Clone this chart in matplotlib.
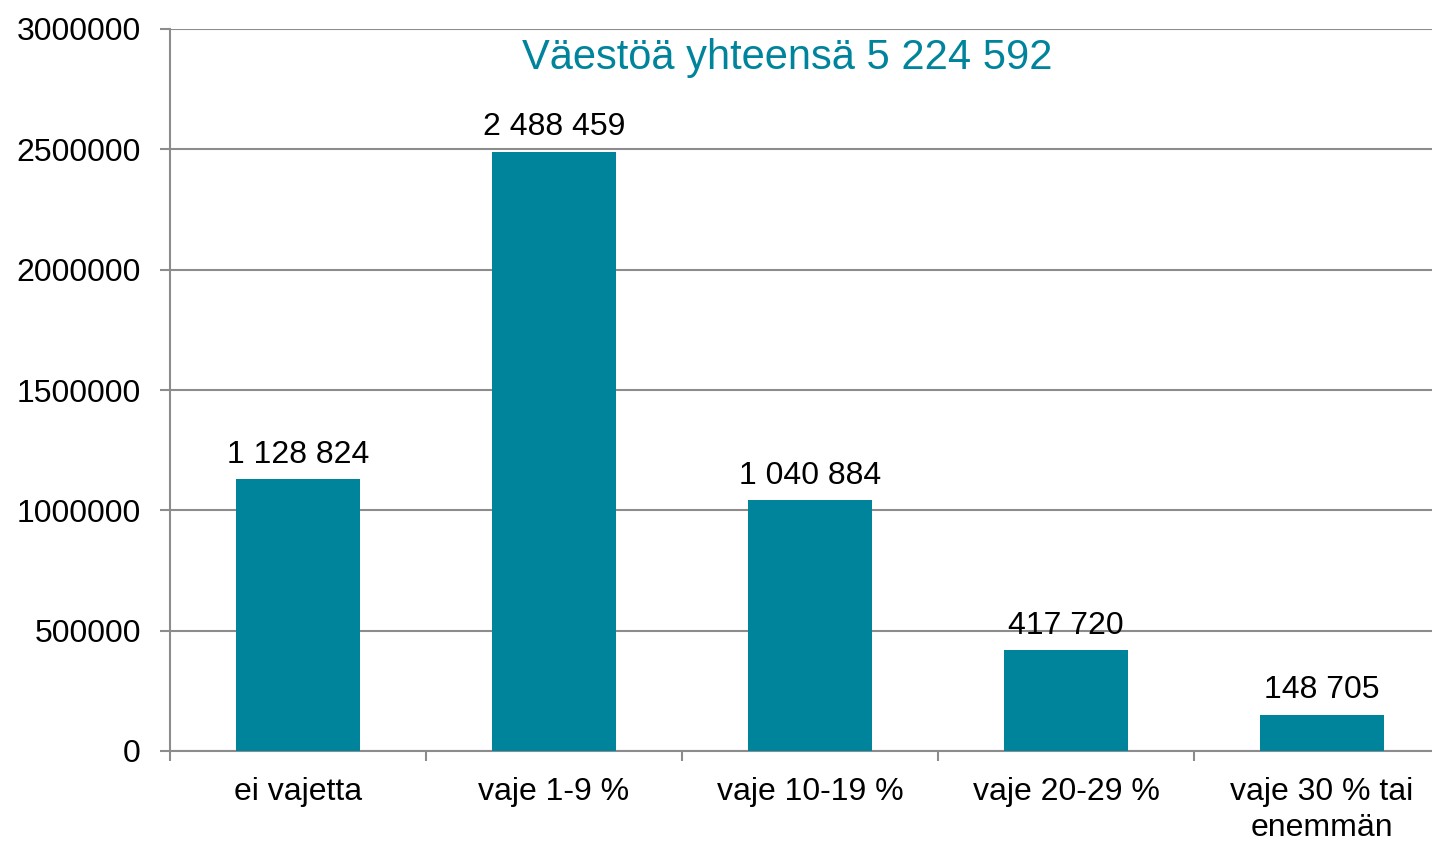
import matplotlib.pyplot as plt

plt.rcParams['font.family'] = ['Liberation Sans', 'DejaVu Sans']

# Data
luokat = ["ei vajetta", "vaje 1-9 %", "vaje 10-19 %", "vaje 20-29 %", "vaje 30 % tai\nenemmän"]
vaesto = [1128824, 2488459, 1040884, 417720, 148705]
otsikko = "Väestöä yhteensä 5 224 592"

TEAL = "#00849C"
GRID = "#8C8C8C"
FS = 23

fig = plt.figure(figsize=(14.32, 8.41), dpi=100)
ax = fig.add_axes([170 / 1432, 1 - 751 / 841, 1280 / 1432, 722 / 841])

x = range(len(luokat))
bars = ax.bar(x, vaesto, width=0.485, color=TEAL, zorder=3)

# Arvot palkkien päälle, välilyönti tuhaterottimena
for b, v in zip(bars, vaesto):
    ax.annotate(f"{v:,}".replace(",", " "), (b.get_x() + b.get_width() / 2, v),
                xytext=(0, 7), textcoords="offset points", ha="center", va="bottom",
                fontsize=FS, color="black")

ax.set_xlim(-0.5, len(luokat) - 0.5)
ax.set_ylim(0, 3000000)
ax.set_yticks(range(0, 3000001, 500000))
ax.set_yticklabels([str(t) for t in range(0, 3000001, 500000)], fontsize=FS)

ax.set_xticks(list(x))
ax.set_xticklabels(luokat, fontsize=FS, linespacing=1.25)
ax.tick_params(axis="x", length=0, pad=19)
# jakoviivat luokkien väliin
ax.set_xticks([i - 0.5 for i in range(len(luokat) + 1)], minor=True)
ax.tick_params(axis="x", which="minor", length=7, color=GRID, width=1.5)
ax.tick_params(axis="y", length=7, color=GRID, width=1.5, pad=14)

ax.grid(axis="y", color=GRID, linewidth=1.5, zorder=0)
for s in ["top", "right"]:
    ax.spines[s].set_visible(False)
ax.spines["left"].set_color(GRID)
ax.spines["left"].set_linewidth(1.5)
ax.spines["bottom"].set_color(GRID)
ax.spines["bottom"].set_linewidth(1.5)

fig.text(787 / 1432, 1 - 58 / 841, otsikko, ha="center", va="center",
         fontsize=30, color=TEAL)

fig.savefig("out.png", dpi=100)
